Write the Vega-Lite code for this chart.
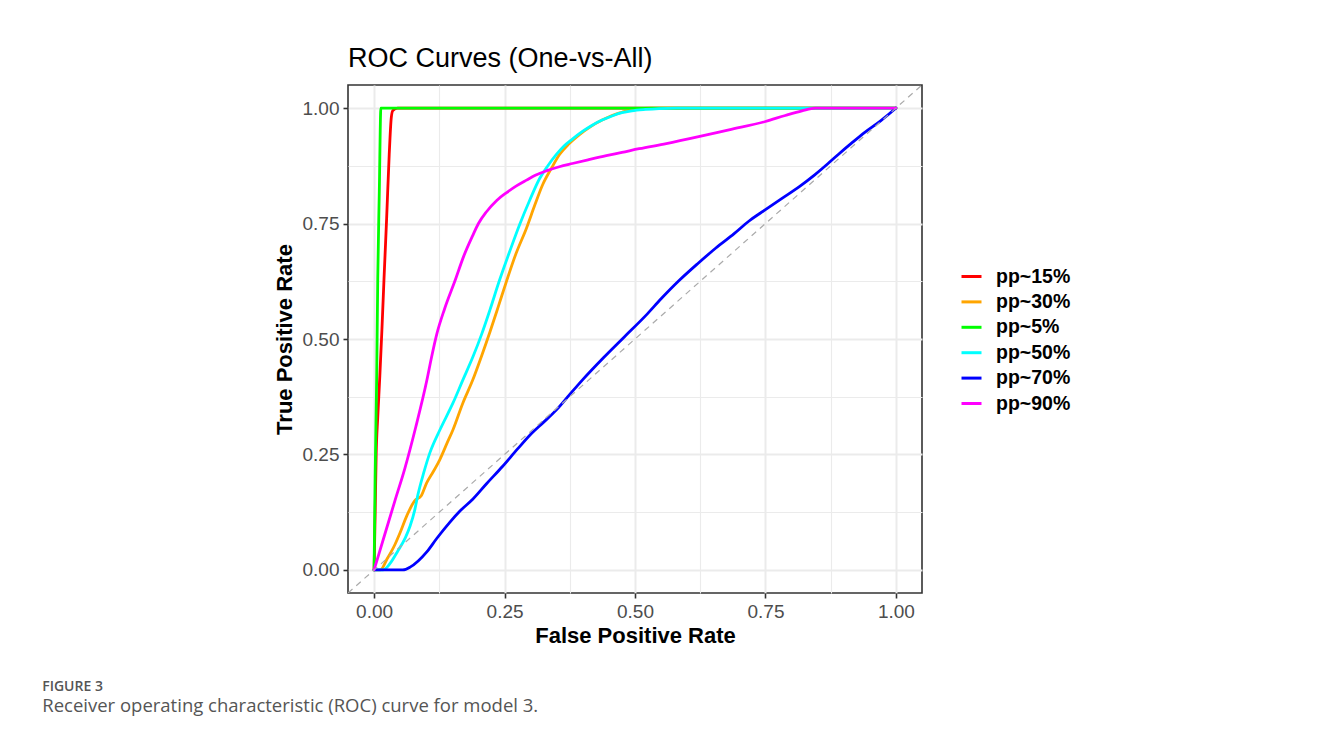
{
  "$schema": "https://vega.github.io/schema/vega-lite/v6.json",
  "padding": {"left": 42, "top": 44, "right": 10, "bottom": 10},
  "background": "white",
  "title": {
    "text": "FIGURE 3",
    "subtitle": "Receiver operating characteristic (ROC) curve for model 3.",
    "orient": "bottom",
    "anchor": "start",
    "frame": "bounds",
    "dx": -230,
    "offset": 33,
    "font": "Open Sans",
    "fontSize": 14,
    "fontWeight": 600,
    "color": "#555555",
    "subtitleFont": "Open Sans",
    "subtitleFontSize": 18.5,
    "subtitleColor": "#555555",
    "subtitlePadding": 3.5
  },
  "datasets": {
    "roc": [
      {"cls": "pp~15%", "i": 0, "fpr": 0, "tpr": 0},
      {"cls": "pp~15%", "i": 1, "fpr": 0.002, "tpr": 0.12},
      {"cls": "pp~15%", "i": 2, "fpr": 0.004, "tpr": 0.25},
      {"cls": "pp~15%", "i": 3, "fpr": 0.007, "tpr": 0.33},
      {"cls": "pp~15%", "i": 4, "fpr": 0.011, "tpr": 0.42},
      {"cls": "pp~15%", "i": 5, "fpr": 0.015, "tpr": 0.52},
      {"cls": "pp~15%", "i": 6, "fpr": 0.019, "tpr": 0.63},
      {"cls": "pp~15%", "i": 7, "fpr": 0.024, "tpr": 0.76},
      {"cls": "pp~15%", "i": 8, "fpr": 0.029, "tpr": 0.9},
      {"cls": "pp~15%", "i": 9, "fpr": 0.033, "tpr": 0.98},
      {"cls": "pp~15%", "i": 10, "fpr": 0.036, "tpr": 0.995},
      {"cls": "pp~15%", "i": 11, "fpr": 0.045, "tpr": 1},
      {"cls": "pp~15%", "i": 12, "fpr": 1, "tpr": 1},

      {"cls": "pp~30%", "i": 0, "fpr": 0, "tpr": 0},
      {"cls": "pp~30%", "i": 1, "fpr": 0.012, "tpr": 0.0},
      {"cls": "pp~30%", "i": 2, "fpr": 0.025, "tpr": 0.024},
      {"cls": "pp~30%", "i": 3, "fpr": 0.04, "tpr": 0.055},
      {"cls": "pp~30%", "i": 4, "fpr": 0.05, "tpr": 0.081},
      {"cls": "pp~30%", "i": 5, "fpr": 0.063, "tpr": 0.118},
      {"cls": "pp~30%", "i": 6, "fpr": 0.078, "tpr": 0.15},
      {"cls": "pp~30%", "i": 7, "fpr": 0.09, "tpr": 0.16},
      {"cls": "pp~30%", "i": 8, "fpr": 0.101, "tpr": 0.189},
      {"cls": "pp~30%", "i": 9, "fpr": 0.113, "tpr": 0.212},
      {"cls": "pp~30%", "i": 10, "fpr": 0.126, "tpr": 0.239},
      {"cls": "pp~30%", "i": 11, "fpr": 0.14, "tpr": 0.275},
      {"cls": "pp~30%", "i": 12, "fpr": 0.151, "tpr": 0.303},
      {"cls": "pp~30%", "i": 13, "fpr": 0.17, "tpr": 0.361},
      {"cls": "pp~30%", "i": 14, "fpr": 0.189, "tpr": 0.411},
      {"cls": "pp~30%", "i": 15, "fpr": 0.205, "tpr": 0.46},
      {"cls": "pp~30%", "i": 16, "fpr": 0.222, "tpr": 0.515},
      {"cls": "pp~30%", "i": 17, "fpr": 0.238, "tpr": 0.57},
      {"cls": "pp~30%", "i": 18, "fpr": 0.254, "tpr": 0.626},
      {"cls": "pp~30%", "i": 19, "fpr": 0.272, "tpr": 0.685},
      {"cls": "pp~30%", "i": 20, "fpr": 0.292, "tpr": 0.74},
      {"cls": "pp~30%", "i": 21, "fpr": 0.308, "tpr": 0.79},
      {"cls": "pp~30%", "i": 22, "fpr": 0.323, "tpr": 0.834},
      {"cls": "pp~30%", "i": 23, "fpr": 0.34, "tpr": 0.87},
      {"cls": "pp~30%", "i": 24, "fpr": 0.355, "tpr": 0.899},
      {"cls": "pp~30%", "i": 25, "fpr": 0.373, "tpr": 0.922},
      {"cls": "pp~30%", "i": 26, "fpr": 0.393, "tpr": 0.942},
      {"cls": "pp~30%", "i": 27, "fpr": 0.415, "tpr": 0.96},
      {"cls": "pp~30%", "i": 28, "fpr": 0.437, "tpr": 0.974},
      {"cls": "pp~30%", "i": 29, "fpr": 0.456, "tpr": 0.984},
      {"cls": "pp~30%", "i": 30, "fpr": 0.475, "tpr": 0.991},
      {"cls": "pp~30%", "i": 31, "fpr": 0.49, "tpr": 0.996},
      {"cls": "pp~30%", "i": 32, "fpr": 0.508, "tpr": 0.999},
      {"cls": "pp~30%", "i": 33, "fpr": 0.53, "tpr": 1},
      {"cls": "pp~30%", "i": 34, "fpr": 1, "tpr": 1},

      {"cls": "pp~5%", "i": 0, "fpr": 0, "tpr": 0},
      {"cls": "pp~5%", "i": 1, "fpr": 0.002, "tpr": 0.2},
      {"cls": "pp~5%", "i": 2, "fpr": 0.005, "tpr": 0.42},
      {"cls": "pp~5%", "i": 3, "fpr": 0.007, "tpr": 0.63},
      {"cls": "pp~5%", "i": 4, "fpr": 0.01, "tpr": 0.82},
      {"cls": "pp~5%", "i": 5, "fpr": 0.013, "tpr": 1},
      {"cls": "pp~5%", "i": 6, "fpr": 1, "tpr": 1},

      {"cls": "pp~50%", "i": 0, "fpr": 0, "tpr": 0},
      {"cls": "pp~50%", "i": 1, "fpr": 0.017, "tpr": 0.0},
      {"cls": "pp~50%", "i": 2, "fpr": 0.03, "tpr": 0.013},
      {"cls": "pp~50%", "i": 3, "fpr": 0.045, "tpr": 0.04},
      {"cls": "pp~50%", "i": 4, "fpr": 0.06, "tpr": 0.07},
      {"cls": "pp~50%", "i": 5, "fpr": 0.069, "tpr": 0.095},
      {"cls": "pp~50%", "i": 6, "fpr": 0.078, "tpr": 0.13},
      {"cls": "pp~50%", "i": 7, "fpr": 0.084, "tpr": 0.163},
      {"cls": "pp~50%", "i": 8, "fpr": 0.095, "tpr": 0.21},
      {"cls": "pp~50%", "i": 9, "fpr": 0.107, "tpr": 0.254},
      {"cls": "pp~50%", "i": 10, "fpr": 0.126, "tpr": 0.303},
      {"cls": "pp~50%", "i": 11, "fpr": 0.151, "tpr": 0.361},
      {"cls": "pp~50%", "i": 12, "fpr": 0.17, "tpr": 0.411},
      {"cls": "pp~50%", "i": 13, "fpr": 0.19, "tpr": 0.463},
      {"cls": "pp~50%", "i": 14, "fpr": 0.206, "tpr": 0.51},
      {"cls": "pp~50%", "i": 15, "fpr": 0.222, "tpr": 0.563},
      {"cls": "pp~50%", "i": 16, "fpr": 0.24, "tpr": 0.626},
      {"cls": "pp~50%", "i": 17, "fpr": 0.26, "tpr": 0.69},
      {"cls": "pp~50%", "i": 18, "fpr": 0.279, "tpr": 0.748},
      {"cls": "pp~50%", "i": 19, "fpr": 0.298, "tpr": 0.8},
      {"cls": "pp~50%", "i": 20, "fpr": 0.317, "tpr": 0.847},
      {"cls": "pp~50%", "i": 21, "fpr": 0.333, "tpr": 0.875},
      {"cls": "pp~50%", "i": 22, "fpr": 0.349, "tpr": 0.899},
      {"cls": "pp~50%", "i": 23, "fpr": 0.364, "tpr": 0.918},
      {"cls": "pp~50%", "i": 24, "fpr": 0.38, "tpr": 0.933},
      {"cls": "pp~50%", "i": 25, "fpr": 0.4, "tpr": 0.95},
      {"cls": "pp~50%", "i": 26, "fpr": 0.418, "tpr": 0.963},
      {"cls": "pp~50%", "i": 27, "fpr": 0.437, "tpr": 0.974},
      {"cls": "pp~50%", "i": 28, "fpr": 0.456, "tpr": 0.983},
      {"cls": "pp~50%", "i": 29, "fpr": 0.475, "tpr": 0.99},
      {"cls": "pp~50%", "i": 30, "fpr": 0.494, "tpr": 0.994},
      {"cls": "pp~50%", "i": 31, "fpr": 0.52, "tpr": 0.997},
      {"cls": "pp~50%", "i": 32, "fpr": 0.546, "tpr": 0.999},
      {"cls": "pp~50%", "i": 33, "fpr": 0.58, "tpr": 1},
      {"cls": "pp~50%", "i": 34, "fpr": 1, "tpr": 1},

      {"cls": "pp~70%", "i": 0, "fpr": 0, "tpr": 0},
      {"cls": "pp~70%", "i": 1, "fpr": 0.055, "tpr": 0},
      {"cls": "pp~70%", "i": 2, "fpr": 0.069, "tpr": 0.006},
      {"cls": "pp~70%", "i": 3, "fpr": 0.085, "tpr": 0.02},
      {"cls": "pp~70%", "i": 4, "fpr": 0.101, "tpr": 0.039},
      {"cls": "pp~70%", "i": 5, "fpr": 0.12, "tpr": 0.068},
      {"cls": "pp~70%", "i": 6, "fpr": 0.145, "tpr": 0.103},
      {"cls": "pp~70%", "i": 7, "fpr": 0.165, "tpr": 0.128},
      {"cls": "pp~70%", "i": 8, "fpr": 0.189, "tpr": 0.153},
      {"cls": "pp~70%", "i": 9, "fpr": 0.215, "tpr": 0.186},
      {"cls": "pp~70%", "i": 10, "fpr": 0.246, "tpr": 0.224},
      {"cls": "pp~70%", "i": 11, "fpr": 0.275, "tpr": 0.262},
      {"cls": "pp~70%", "i": 12, "fpr": 0.303, "tpr": 0.297},
      {"cls": "pp~70%", "i": 13, "fpr": 0.325, "tpr": 0.32},
      {"cls": "pp~70%", "i": 14, "fpr": 0.349, "tpr": 0.346},
      {"cls": "pp~70%", "i": 15, "fpr": 0.375, "tpr": 0.38},
      {"cls": "pp~70%", "i": 16, "fpr": 0.399, "tpr": 0.411},
      {"cls": "pp~70%", "i": 17, "fpr": 0.44, "tpr": 0.46},
      {"cls": "pp~70%", "i": 18, "fpr": 0.479, "tpr": 0.504},
      {"cls": "pp~70%", "i": 19, "fpr": 0.52, "tpr": 0.55},
      {"cls": "pp~70%", "i": 20, "fpr": 0.55, "tpr": 0.587},
      {"cls": "pp~70%", "i": 21, "fpr": 0.584, "tpr": 0.626},
      {"cls": "pp~70%", "i": 22, "fpr": 0.62, "tpr": 0.663},
      {"cls": "pp~70%", "i": 23, "fpr": 0.655, "tpr": 0.697},
      {"cls": "pp~70%", "i": 24, "fpr": 0.69, "tpr": 0.728},
      {"cls": "pp~70%", "i": 25, "fpr": 0.718, "tpr": 0.755},
      {"cls": "pp~70%", "i": 26, "fpr": 0.75, "tpr": 0.78},
      {"cls": "pp~70%", "i": 27, "fpr": 0.781, "tpr": 0.804},
      {"cls": "pp~70%", "i": 28, "fpr": 0.815, "tpr": 0.83},
      {"cls": "pp~70%", "i": 29, "fpr": 0.845, "tpr": 0.856},
      {"cls": "pp~70%", "i": 30, "fpr": 0.87, "tpr": 0.88},
      {"cls": "pp~70%", "i": 31, "fpr": 0.889, "tpr": 0.899},
      {"cls": "pp~70%", "i": 32, "fpr": 0.915, "tpr": 0.924},
      {"cls": "pp~70%", "i": 33, "fpr": 0.941, "tpr": 0.948},
      {"cls": "pp~70%", "i": 34, "fpr": 0.97, "tpr": 0.972},
      {"cls": "pp~70%", "i": 35, "fpr": 0.998, "tpr": 0.998},
      {"cls": "pp~70%", "i": 36, "fpr": 1, "tpr": 1},

      {"cls": "pp~90%", "i": 0, "fpr": 0, "tpr": 0},
      {"cls": "pp~90%", "i": 1, "fpr": 0.02, "tpr": 0.075},
      {"cls": "pp~90%", "i": 2, "fpr": 0.04, "tpr": 0.15},
      {"cls": "pp~90%", "i": 3, "fpr": 0.059, "tpr": 0.22},
      {"cls": "pp~90%", "i": 4, "fpr": 0.08, "tpr": 0.31},
      {"cls": "pp~90%", "i": 5, "fpr": 0.101, "tpr": 0.41},
      {"cls": "pp~90%", "i": 6, "fpr": 0.11, "tpr": 0.46},
      {"cls": "pp~90%", "i": 7, "fpr": 0.12, "tpr": 0.51},
      {"cls": "pp~90%", "i": 8, "fpr": 0.135, "tpr": 0.565},
      {"cls": "pp~90%", "i": 9, "fpr": 0.155, "tpr": 0.626},
      {"cls": "pp~90%", "i": 10, "fpr": 0.172, "tpr": 0.68},
      {"cls": "pp~90%", "i": 11, "fpr": 0.189, "tpr": 0.724},
      {"cls": "pp~90%", "i": 12, "fpr": 0.2, "tpr": 0.75},
      {"cls": "pp~90%", "i": 13, "fpr": 0.215, "tpr": 0.775},
      {"cls": "pp~90%", "i": 14, "fpr": 0.235, "tpr": 0.8},
      {"cls": "pp~90%", "i": 15, "fpr": 0.254, "tpr": 0.817},
      {"cls": "pp~90%", "i": 16, "fpr": 0.272, "tpr": 0.831},
      {"cls": "pp~90%", "i": 17, "fpr": 0.292, "tpr": 0.844},
      {"cls": "pp~90%", "i": 18, "fpr": 0.31, "tpr": 0.855},
      {"cls": "pp~90%", "i": 19, "fpr": 0.33, "tpr": 0.864},
      {"cls": "pp~90%", "i": 20, "fpr": 0.355, "tpr": 0.873},
      {"cls": "pp~90%", "i": 21, "fpr": 0.38, "tpr": 0.88},
      {"cls": "pp~90%", "i": 22, "fpr": 0.41, "tpr": 0.888},
      {"cls": "pp~90%", "i": 23, "fpr": 0.445, "tpr": 0.897},
      {"cls": "pp~90%", "i": 24, "fpr": 0.475, "tpr": 0.904},
      {"cls": "pp~90%", "i": 25, "fpr": 0.508, "tpr": 0.912},
      {"cls": "pp~90%", "i": 26, "fpr": 0.56, "tpr": 0.923},
      {"cls": "pp~90%", "i": 27, "fpr": 0.622, "tpr": 0.938},
      {"cls": "pp~90%", "i": 28, "fpr": 0.68, "tpr": 0.953},
      {"cls": "pp~90%", "i": 29, "fpr": 0.75, "tpr": 0.971},
      {"cls": "pp~90%", "i": 30, "fpr": 0.788, "tpr": 0.984},
      {"cls": "pp~90%", "i": 31, "fpr": 0.82, "tpr": 0.994},
      {"cls": "pp~90%", "i": 32, "fpr": 0.845, "tpr": 1},
      {"cls": "pp~90%", "i": 33, "fpr": 1, "tpr": 1}
    ],
    "diag": [
      {"fpr": -0.05, "tpr": -0.05},
      {"fpr": 1.05, "tpr": 1.05}
    ]
  },
  "vconcat": [
    {
      "width": 574,
      "height": 508,
      "title": {
        "text": "ROC Curves (One-vs-All)",
        "anchor": "start",
        "frame": "group",
        "font": "Liberation Sans",
        "fontSize": 27,
        "fontWeight": "normal",
        "color": "#000000",
        "offset": 12
      },
      "layer": [
        {
          "data": {"name": "roc"},
          "mark": {"type": "line", "strokeWidth": 2.8, "clip": true, "strokeJoin": "round", "strokeCap": "round", "interpolate": "monotone"},
          "encoding": {
            "x": {
              "field": "fpr", "type": "quantitative",
              "scale": {"domain": [-0.05, 1.05], "nice": false, "zero": false},
              "axis": {
                "title": "False Positive Rate",
                "values": [0, 0.125, 0.25, 0.375, 0.5, 0.625, 0.75, 0.875, 1],
                "labelExpr": "(datum.value * 4) % 1 == 0 ? format(datum.value, '.2f') : ''",
                "tickOpacity": {"condition": {"test": "(datum.value * 4) % 1 == 0", "value": 1}, "value": 0},
                "gridWidth": {"condition": {"test": "(datum.value * 4) % 1 == 0", "value": 2}, "value": 1.1},
                "titlePadding": 4
              }
            },
            "y": {
              "field": "tpr", "type": "quantitative",
              "scale": {"domain": [-0.05, 1.05], "nice": false, "zero": false},
              "axis": {
                "title": "True Positive Rate",
                "values": [0, 0.125, 0.25, 0.375, 0.5, 0.625, 0.75, 0.875, 1],
                "labelExpr": "(datum.value * 4) % 1 == 0 ? format(datum.value, '.2f') : ''",
                "tickOpacity": {"condition": {"test": "(datum.value * 4) % 1 == 0", "value": 1}, "value": 0},
                "gridWidth": {"condition": {"test": "(datum.value * 4) % 1 == 0", "value": 2}, "value": 1.1},
                "titlePadding": 6
              }
            },
            "color": {
              "field": "cls", "type": "nominal",
              "scale": {
                "domain": ["pp~15%", "pp~30%", "pp~5%", "pp~50%", "pp~70%", "pp~90%"],
                "range": ["#FF0000", "#FFA500", "#00FF00", "#00FFFF", "#0000FF", "#FF00FF"]
              },
              "legend": {
                "title": null,
                "orient": "none",
                "legendX": 612,
                "legendY": 180,
                "symbolType": "stroke",
                "symbolSize": 400,
                "symbolStrokeWidth": 3,
                "labelFont": "Liberation Sans",
                "labelFontSize": 19.5,
                "labelFontWeight": "bold",
                "labelColor": "#000000",
                "labelOffset": 13,
                "rowPadding": 4.4,
                "padding": 0
              }
            },
            "order": {"field": "i", "type": "quantitative"}
          }
        },
        {
          "data": {"name": "diag"},
          "mark": {"type": "line", "stroke": "#AAAAAA", "strokeWidth": 1.2, "strokeDash": [6, 5], "clip": true},
          "encoding": {
            "x": {"field": "fpr", "type": "quantitative"},
            "y": {"field": "tpr", "type": "quantitative"}
          }
        }
      ]
    }
  ],
  "config": {
    "view": {"stroke": "#333333", "strokeWidth": 1.6},
    "axis": {
      "domain": false,
      "gridColor": "#EBEBEB",
      "tickColor": "#333333",
      "tickWidth": 1.6,
      "tickSize": 5,
      "labelFont": "Liberation Sans",
      "labelFontSize": 19,
      "labelColor": "#4D4D4D",
      "labelPadding": 4,
      "titleFont": "Liberation Sans",
      "titleFontSize": 22,
      "titleFontWeight": "bold",
      "titleColor": "#000000"
    }
  }
}
